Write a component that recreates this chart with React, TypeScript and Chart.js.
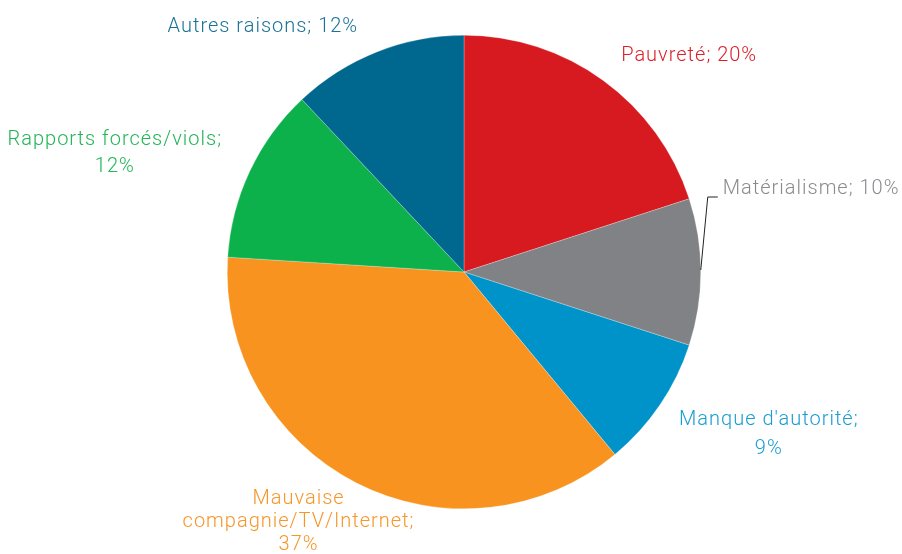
import React, { useEffect, useRef } from "react";
import { Chart, registerables } from "chart.js";

Chart.register(...registerables);

const categories = [
  "Pauvreté",
  "Matérialisme",
  "Manque d'autorité",
  "Mauvaise compagnie/TV/Internet",
  "Rapports forcés/viols",
  "Autres raisons",
];
const values = [20, 10, 9, 37, 12, 12];
const labelLines = [
  ["Pauvreté; 20%"],
  ["Matérialisme; 10%"],
  ["Manque d'autorité;", "9%"],
  ["Mauvaise", "compagnie/TV/Internet;", "37%"],
  ["Rapports forcés/viols;", "12%"],
  ["Autres raisons; 12%"],
];
const colors = ["#D71920", "#808285", "#0093C9", "#F7931E", "#0DB14B", "#00678F"];
const textColors = ["#DB2029", "#898B8E", "#1A9CD0", "#F7962A", "#22B556", "#1A7298"];

// label layout: offset from the slice's outer mid-point, alignment, line height, leader line
const labelLayout = [
  { dx: 86, dy: -24, align: "center", lh: 30, leader: false },
  { dx: 22, dy: -83, align: "left", lh: 30, leader: true },
  { dx: 109, dy: 15, align: "center", lh: 29, leader: false },
  { dx: -58, dy: 16, align: "center", lh: 23, leader: false },
  { dx: -135, dy: -31, align: "center", lh: 27, leader: false },
  { dx: -114, dy: -25, align: "center", lh: 30, leader: false },
];

const FONT = '300 20px Roboto, "Liberation Sans", sans-serif';

const labelPlugin = {
  id: "outerLabels",
  afterDraw(chart: any) {
    const ctx = chart.ctx;
    const meta = chart.getDatasetMeta(0);
    ctx.save();
    ctx.font = FONT;
    try {
      (ctx as any).letterSpacing = "1px";
    } catch (e) {}
    ctx.textBaseline = "middle";
    meta.data.forEach((arc: any, i: number) => {
      const { x, y, startAngle, endAngle, outerRadius } = arc.getProps(
        ["x", "y", "startAngle", "endAngle", "outerRadius"],
        true
      );
      const mid = (startAngle + endAngle) / 2;
      const ox = x + Math.cos(mid) * outerRadius;
      const oy = y + Math.sin(mid) * outerRadius;
      const lay = labelLayout[i];
      const lx = ox + lay.dx;
      const ly = oy + lay.dy;
      if (lay.leader) {
        ctx.strokeStyle = "#222";
        ctx.lineWidth = 1;
        ctx.beginPath();
        ctx.moveTo(ox, oy - 2);
        ctx.lineTo(ox + 7, ly + 8);
        ctx.lineTo(lx - 5, ly + 8);
        ctx.stroke();
      }
      ctx.fillStyle = textColors[i];
      ctx.textAlign = lay.align;
      labelLines[i].forEach((line, k) => {
        ctx.fillText(line, lx, ly + k * lay.lh);
      });
    });
    ctx.restore();
  },
};

export default function App() {
  const ref = useRef<HTMLCanvasElement>(null);
  useEffect(() => {
    document.body.style.margin = "0";
    const chart = new Chart(ref.current!, {
      type: "pie",
      data: {
        labels: categories,
        datasets: [
          {
            data: values,
            backgroundColor: colors,
            borderColor: "rgba(255,255,255,0.5)",
            borderWidth: 0.5,
          },
        ],
      },
      options: {
        animation: false,
        responsive: false,
        layout: { padding: { top: 35, bottom: 45, left: 227, right: 201 } },
        plugins: {
          legend: { display: false },
          tooltip: { enabled: false },
        },
      },
      plugins: [labelPlugin],
    });
    return () => chart.destroy();
  }, []);
  return (
    <div style={{ width: 902, height: 554, background: "#fff" }}>
      <canvas ref={ref} width={902} height={554} />
    </div>
  );
}
